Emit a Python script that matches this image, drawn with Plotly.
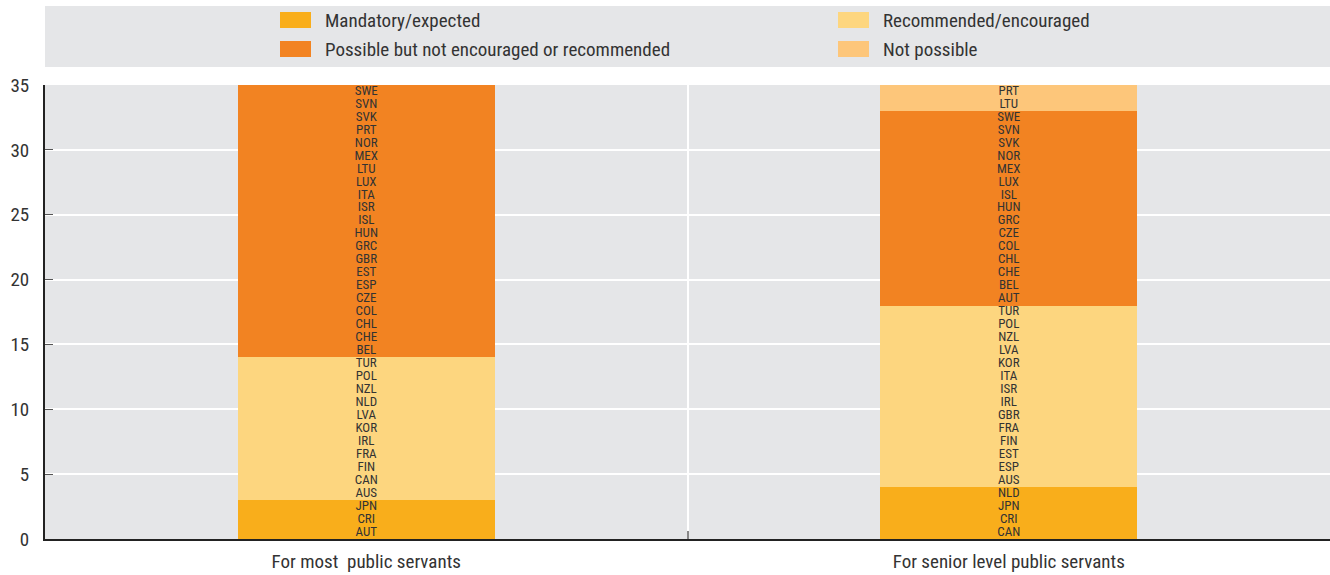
import plotly.graph_objects as go

categories = ["For most  public servants", "For senior level public servants"]
statuses = ["Mandatory/expected", "Recommended/encouraged",
            "Possible but not encouraged or recommended", "Not possible"]
colors = ["#F9AE1B", "#FDD67F", "#F28322", "#FDC67A"]

# countries per status (bottom to top) for each category
most_mandatory = ["AUT", "CRI", "JPN"]
most_recommended = ["AUS", "CAN", "FIN", "FRA", "IRL", "KOR", "LVA", "NLD", "NZL", "POL", "TUR"]
most_possible = ["BEL", "CHE", "CHL", "COL", "CZE", "ESP", "EST", "GBR", "GRC", "HUN", "ISL",
                 "ISR", "ITA", "LUX", "LTU", "MEX", "NOR", "PRT", "SVK", "SVN", "SWE"]
most_not_possible = []

senior_mandatory = ["CAN", "CRI", "JPN", "NLD"]
senior_recommended = ["AUS", "ESP", "EST", "FIN", "FRA", "GBR", "IRL", "ISR", "ITA", "KOR",
                      "LVA", "NZL", "POL", "TUR"]
senior_possible = ["AUT", "BEL", "CHE", "CHL", "COL", "CZE", "GRC", "HUN", "ISL", "LUX",
                   "MEX", "NOR", "SVK", "SVN", "SWE"]
senior_not_possible = ["LTU", "PRT"]

groups = {
    categories[0]: [most_mandatory, most_recommended, most_possible, most_not_possible],
    categories[1]: [senior_mandatory, senior_recommended, senior_possible, senior_not_possible],
}

FONT = "Liberation Sans Narrow, Roboto Condensed, Arial Narrow, Liberation Sans, sans-serif"

fig = go.Figure()
for i, (status, col) in enumerate(zip(statuses, colors)):
    fig.add_trace(go.Bar(
        x=categories,
        y=[len(groups[c][i]) for c in categories],
        name=status, marker=dict(color=col, line=dict(width=0)),
        width=0.4, showlegend=False, hoverinfo="x+y+name",
    ))

# country labels
lx, ly, lt = [], [], []
for c in categories:
    n = 0
    for lst in groups[c]:
        for code in lst:
            lx.append(c)
            ly.append(n + 0.5)
            lt.append(code)
            n += 1
fig.add_trace(go.Scatter(x=lx, y=ly, text=lt, mode="text", showlegend=False,
                         textfont=dict(size=13, color="#333333", family=FONT),
                         hoverinfo="text"))

# legend background and entries (manual)
H = 454.0
def py(p):
    return (539 - p) / H
def px(p):
    return (p - 45) / 1285.0

fig.add_shape(type="rect", xref="paper", yref="paper", x0=0, x1=1, y0=py(67), y1=py(6),
              fillcolor="#E5E6E8", line=dict(width=0), layer="below")
positions = {0: (280, 20), 1: (838, 20), 2: (280, 49), 3: (838, 49)}
for i in [0, 1, 2, 3]:
    sx, sy = positions[i]
    fig.add_shape(type="rect", xref="paper", yref="paper",
                  x0=px(sx), x1=px(sx + 31), y0=py(sy + 8), y1=py(sy - 8),
                  fillcolor=colors[i], line=dict(width=0))
    fig.add_annotation(xref="paper", yref="paper", x=px(sx + 43), y=py(sy),
                       xanchor="left", yanchor="middle", showarrow=False,
                       text=statuses[i], font=dict(size=19, color="#333333", family=FONT))

fig.update_layout(
    barmode="stack",
    width=1330, height=575,
    margin=dict(l=45, r=0, t=85, b=36),
    paper_bgcolor="white",
    plot_bgcolor="#E5E6E8",
    font=dict(family=FONT, color="#333333", size=16),
    bargap=0.6,
    xaxis=dict(showgrid=True, gridcolor="white", gridwidth=2, tickson="boundaries",
               ticks="inside", ticklen=8, tickcolor="#888888", tickwidth=2,
               showline=True, linecolor="#222222", linewidth=2,
               ticklabelstandoff=4,
               tickfont=dict(size=19, color="#333333")),
    yaxis=dict(range=[0, 35], tickvals=[0, 5, 10, 15, 20, 25, 30, 35],
               showgrid=True, gridcolor="white", gridwidth=2,
               ticks="inside", ticklen=8, tickcolor="#555555",
               showline=True, linecolor="#222222", linewidth=2, zeroline=False,
               ticklabelstandoff=10,
               tickfont=dict(size=19, color="#333333")),
)

fig.write_html("out.html", config={"displayModeBar": False},
               post_script="document.body.style.margin='0';")
